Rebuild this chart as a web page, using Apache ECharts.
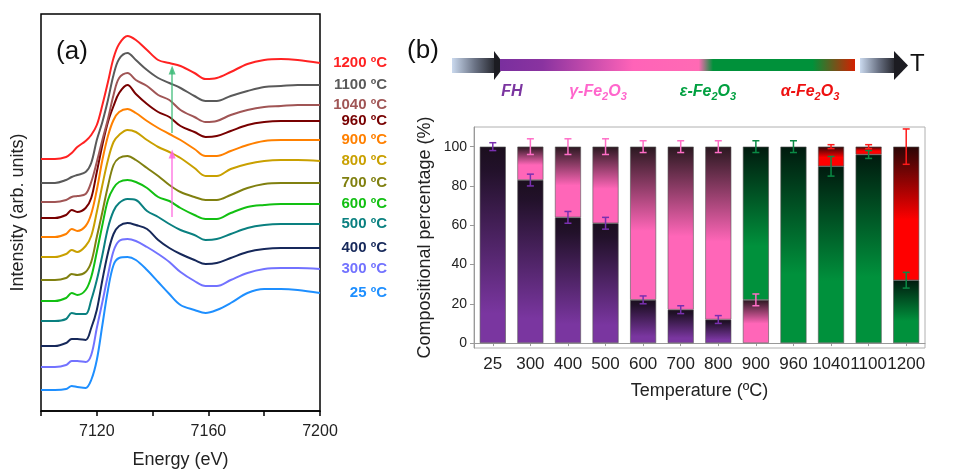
<!DOCTYPE html>
<html><head><meta charset="utf-8">
<script src="https://cdn.jsdelivr.net/npm/echarts@6/dist/echarts.min.js"></script>
<style>html,body{margin:0;padding:0;background:#fff}#c{width:965px;height:471px}</style>
</head><body><div id="c"></div>
<script>
// ---------- Panel (a): XANES spectra ----------
const energy = [7100,7105,7109,7111,7113,7116,7118,7120,7122,7124,7126,7128,7131,7134,7138,7142,7146,7150,7155,7159,7163,7168,7174,7180,7186,7192,7200];
const s25   = [21,21,22,25,24,23,31,51,86,121,146,153,154,151,141,129,117,106,101,98,101,108,118,122,122,121,118];
const s300  = [44,44,46,50,50,49,56,83,109,136,160,170,172,170,164,157,149,139,130,125,125,131,138,142,143,143,142];
const s400  = [65,65,68,72,72,71,83,101,131,158,177,185,188,186,182,171,163,157,151,147,148,153,159,162,163,163,163];
const s500  = [90,90,92,98,97,97,111,131,156,183,200,208,212,211,200,194,187,181,176,171,172,177,183,186,187,187,187];
const s600  = [110,110,113,118,116,121,134,159,186,211,223,229,231,229,223,214,210,203,196,192,192,198,204,206,207,207,207];
const s700  = [131,131,133,137,136,139,149,174,199,225,246,253,255,251,243,235,226,219,214,211,211,216,223,227,228,228,228];
const s800  = [154,154,157,161,159,165,175,199,226,251,269,276,281,279,271,264,259,253,243,235,235,242,247,250,251,251,250];
const s900  = [174,174,177,182,180,185,197,221,251,275,291,299,302,298,290,283,277,271,262,255,255,260,266,270,271,271,271];
const s960  = [193,193,196,201,199,203,213,239,266,289,305,318,326,317,307,299,294,285,279,274,275,280,286,289,290,290,290];
const s1040 = [209,209,211,214,215,217,229,249,271,292,316,333,338,331,325,316,311,301,294,289,290,296,301,304,305,306,306];
const s1100 = [228,228,231,234,236,239,248,271,289,311,336,352,358,351,341,333,328,323,315,310,310,315,320,324,325,326,326];
const s1200 = [252,252,254,258,264,270,276,286,306,329,353,367,375,371,361,351,348,345,338,332,333,339,347,351,352,351,348];
const spectra = [s25,s300,s400,s500,s600,s700,s800,s900,s960,s1040,s1100,s1200];
const spectraNames = ['25 ºC','300 ºC','400 ºC','500 ºC','600 ºC','700 ºC','800 ºC','900 ºC','960 ºC','1040 ºC','1100 ºC','1200 ºC'];
const spectraColors = ['#1e8fff','#7272ff','#16285a','#0a8080','#12c012','#808010','#c9a000','#ff8000','#780000','#a05555','#5a5a5a','#ff2222'];

// ---------- Panel (b): composition ----------
const categories = ['25','300','400','500','600','700','800','900','960','1040','1100','1200'];
const fhPct    = [100,83,64,61,22,17,12,0,0,0,0,0];
const gammaPct = [0,17,36,39,78,83,88,22,0,0,0,0];
const epsPct   = [0,0,0,0,0,0,0,78,100,90,96,32];
const alphaPct = [0,0,0,0,0,0,0,0,0,10,4,68];
const errFH    = [2,3,3,3,2,2,2,null,null,null,null,null];
const errGamma = [null,4,4,4,3,3,3,3,null,null,null,null];
const errEps   = [null,null,null,null,null,null,null,3,3,5,2,4];
const errAlpha = [null,null,null,null,null,null,null,null,null,1,1,9];
const yTicks = [0,20,40,60,80,100];

const FONT = 'Liberation Sans, Arial, sans-serif';
const chart = echarts.init(document.getElementById('c'));

function grad(stops){ return {type:'linear',x:0,y:0,x2:0,y2:1,colorStops:stops.map(s=>({offset:s[0],color:s[1]}))}; }

const lineSeries = spectra.map((vals,i)=>({
  type:'line', name:spectraNames[i], xAxisIndex:0, yAxisIndex:0,
  data: energy.map((e,j)=>[e, vals[j]]),
  smooth:0.35, showSymbol:false, symbol:'none', silent:true,
  lineStyle:{width:2, color:spectraColors[i]}, itemStyle:{color:spectraColors[i]},
  endLabel:{show:true, formatter:spectraNames[i], color:spectraColors[i], fontSize:15, fontWeight:'bold',
    fontFamily:FONT, align:'right', distance:0, offset:[67,0]},
  z: 2
}));
// arrows
lineSeries[11].markLine = {silent:true, symbol:['none','triangle'], symbolSize:[7,9], label:{show:false},
  lineStyle:{color:'#3dbb78', width:1.5, type:'solid', opacity:0.85},
  data:[[{coord:[7147,278]},{coord:[7147,341]}]]};
lineSeries[10].markLine = {silent:true, symbol:['none','triangle'], symbolSize:[7,9], label:{show:false},
  lineStyle:{color:'#ff66dd', width:1.5, type:'solid', opacity:0.85},
  data:[[{coord:[7147,194]},{coord:[7147,257]}]]};

function nz(a){ return a.map(v=>v===0?null:v); }
const barBase = {type:'bar', xAxisIndex:1, yAxisIndex:1, stack:'p', barWidth:26, silent:true};
const barSeries = [
  Object.assign({}, barBase, {name:'FH', data:nz(fhPct), itemStyle:{borderColor:'#555',borderWidth:0.6,
    color:grad([[0,'#1b0f1e'],[0.12,'#22112a'],[0.85,'#7a36a0'],[1,'#7a36a0']])}}),
  Object.assign({}, barBase, {name:'gamma', data:nz(gammaPct), itemStyle:{borderColor:'#555',borderWidth:0.6,
    color:grad([[0,'#2a1820'],[0.55,'#ff66b8'],[1,'#ff66b8']])}}),
  Object.assign({}, barBase, {name:'eps', data:nz(epsPct), itemStyle:{borderColor:'#555',borderWidth:0.6,
    color:grad([[0,'#001a0e'],[0.65,'#00913c'],[1,'#00913c']])}}),
  Object.assign({}, barBase, {name:'alpha', data:nz(alphaPct), itemStyle:{borderColor:'#555',borderWidth:0.6,
    color:grad([[0,'#2a0606'],[0.55,'#ff0000'],[1,'#ff0000']])}})
];

function errSeries(tops, errs, color){
  const data = [];
  errs.forEach((e,i)=>{ if(e!=null) data.push([i, tops[i], e]); });
  return {type:'custom', xAxisIndex:1, yAxisIndex:1, z:10, silent:true, data,
    renderItem:(params, api)=>{
      const x=api.value(0), y=api.value(1), e=api.value(2);
      const hi=api.coord([x,y+e]), lo=api.coord([x,y-e]);
      const w=3.5, st={stroke:color, lineWidth:1.5};
      return {type:'group', children:[
        {type:'line', shape:{x1:hi[0],y1:hi[1],x2:lo[0],y2:lo[1]}, style:st},
        {type:'line', shape:{x1:hi[0]-w,y1:hi[1],x2:hi[0]+w,y2:hi[1]}, style:st},
        {type:'line', shape:{x1:lo[0]-w,y1:lo[1],x2:lo[0]+w,y2:lo[1]}, style:st}
      ]};
    }};
}
const topFH = fhPct.slice();
const topGamma = fhPct.map((v,i)=>v+gammaPct[i]);
const topEps = topGamma.map((v,i)=>v+epsPct[i]);
const topAlpha = topEps.map((v,i)=>v+alphaPct[i]);

function phaseLabel(x, parts, color){
  return {type:'text', x, y:92, style:{rich:{
      m:{fontSize:16, fontWeight:'bold', fontStyle:'italic', fill:color, fontFamily:FONT, lineHeight:20},
      s:{fontSize:11, fontWeight:'bold', fontStyle:'italic', fill:color, fontFamily:FONT, verticalAlign:'bottom', lineHeight:11}
    }, text:parts, align:'center', verticalAlign:'middle'}};
}

const option = {
  animation:false,
  textStyle:{fontFamily:FONT},
  grid:[
    {left:41, top:14, width:279, height:397, show:true, borderColor:'#000', borderWidth:1.5, backgroundColor:'transparent',
      containLabel:false, outerBoundsMode:'none'},
    {left:474, top:127, width:451, height:221, show:true, borderColor:'#b0b0b0', borderWidth:1, backgroundColor:'transparent',
      containLabel:false, outerBoundsMode:'none'}
  ],
  xAxis:[
    {type:'value', gridIndex:0, min:7100, max:7200, interval:20,
      axisLine:{show:true, lineStyle:{color:'#000', width:1.5}},
      axisTick:{show:true, length:5, lineStyle:{color:'#000', width:1.5}},
      axisLabel:{fontSize:16, color:'#222', margin:13, formatter:v=>((v-7120)%40===0?String(v):'')},
      splitLine:{show:false},
      name:'Energy (eV)', nameLocation:'middle', nameGap:40, nameTextStyle:{fontSize:18, color:'#222'}},
    {type:'category', gridIndex:1, data:categories,
      axisLine:{show:true, lineStyle:{color:'#999'}},
      axisTick:{show:true, alignWithLabel:true, length:3, lineStyle:{color:'#999'}},
      axisLabel:{fontSize:17, color:'#222', margin:8, interval:0, hideOverlap:false},
      name:'Temperature (ºC)', nameLocation:'middle', nameGap:34, nameTextStyle:{fontSize:18, color:'#222'}}
  ],
  yAxis:[
    {type:'value', gridIndex:0, min:0, max:397,
      axisLine:{show:false}, axisTick:{show:false}, axisLabel:{show:false}, splitLine:{show:false},
      name:'Intensity (arb. units)', nameLocation:'middle', nameRotate:90, nameGap:14,
      nameTextStyle:{fontSize:18, color:'#222'}},
    {type:'value', gridIndex:1, min:-2.5, max:110,
      axisLine:{show:true, lineStyle:{color:'#999'}},
      axisTick:{show:true, length:4, customValues:yTicks, lineStyle:{color:'#999'}},
      axisLabel:{fontSize:14, color:'#222', margin:7, customValues:yTicks},
      splitLine:{show:false},
      name:'Compositional percentage (%)', nameLocation:'middle', nameRotate:90, nameGap:40,
      nameTextStyle:{fontSize:18, color:'#222'}}
  ],
  series:[].concat(lineSeries, barSeries, [
    errSeries(topFH, errFH, '#7a30b0'),
    errSeries(topGamma, errGamma, '#ff6ec7'),
    errSeries(topEps, errEps, '#0a8a45'),
    errSeries(topAlpha, errAlpha, '#ff1a1a')
  ]),
  graphic:[
    {type:'text', x:72, y:52, style:{text:'(a)', font:'26px '+FONT, fill:'#111', align:'center', verticalAlign:'middle'}},
    {type:'text', x:423, y:51, style:{text:'(b)', font:'26px '+FONT, fill:'#111', align:'center', verticalAlign:'middle'}},
    {type:'rect', shape:{x:452,y:58,width:46,height:15}, style:{fill:new echarts.graphic.LinearGradient(0,0,1,0,[{offset:0,color:'#cad9ee'},{offset:0.5,color:'#6a7284'},{offset:1,color:'#1c1c22'}])}},
    {type:'polygon', shape:{points:[[494,51],[505,65.5],[494,80]]}, style:{fill:'#1c1c22'}},
    {type:'rect', shape:{x:500,y:59,width:355,height:12}, style:{fill:new echarts.graphic.LinearGradient(0,0,1,0,[
      {offset:0,color:'#7a2f9e'},{offset:0.12,color:'#8a33a0'},{offset:0.375,color:'#ff63b8'},{offset:0.56,color:'#ff6ab4'},
      {offset:0.6,color:'#00913a'},{offset:0.88,color:'#00913a'},{offset:1,color:'#d42000'}])}},
    {type:'rect', shape:{x:860,y:58,width:37,height:15}, style:{fill:new echarts.graphic.LinearGradient(0,0,1,0,[{offset:0,color:'#cad9ee'},{offset:0.5,color:'#6a7284'},{offset:1,color:'#1c1c22'}])}},
    {type:'polygon', shape:{points:[[894,51],[908,65.5],[894,80]]}, style:{fill:'#1c1c22'}},
    {type:'text', x:910, y:64, style:{text:'T', font:'24px '+FONT, fill:'#111', align:'left', verticalAlign:'middle'}},
    phaseLabel(512, '{m|FH}', '#7b35a0'),
    phaseLabel(598, '{m|γ-Fe}{s|2}{m|O}{s|3}', '#ff66cc'),
    phaseLabel(708, '{m|ε-Fe}{s|2}{m|O}{s|3}', '#00a040'),
    phaseLabel(810, '{m|α-Fe}{s|2}{m|O}{s|3}', '#ee1111')
  ]
};
chart.setOption(option);
</script></body></html>
